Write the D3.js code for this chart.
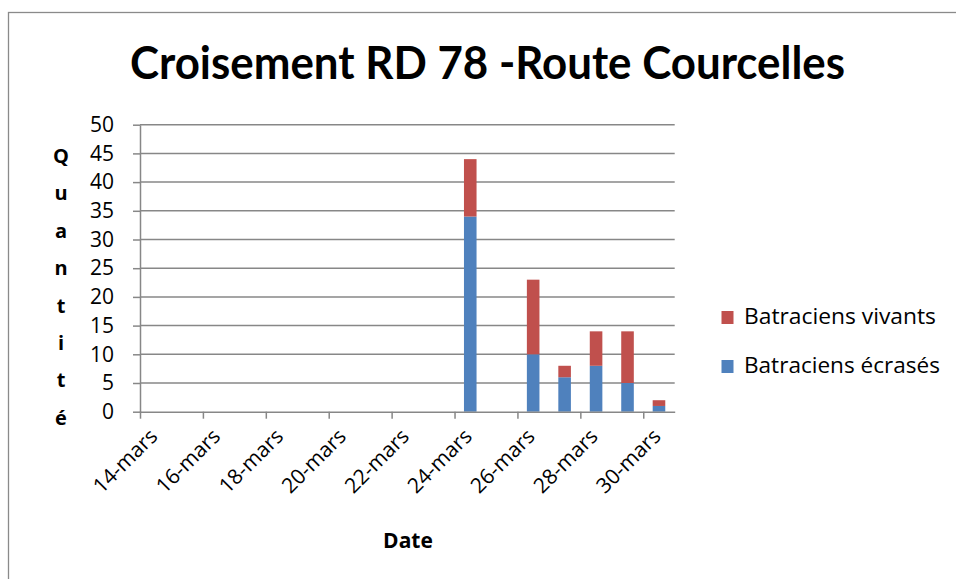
<!DOCTYPE html>
<html>
<head>
<meta charset="utf-8">
<script src="https://cdn.jsdelivr.net/npm/d3@7"></script>
<style>
  html, body { margin: 0; padding: 0; background: #fff; }
  svg { display: block; }
</style>
</head>
<body>
<svg id="chart" width="956" height="579"></svg>
<script>
(function () {
// ---- data ----
const title = "Croisement RD 78 -Route Courcelles";
const dates = ["2014-03-24", "2014-03-26", "2014-03-27", "2014-03-28", "2014-03-29", "2014-03-30"];
const ecrases = [34, 10, 6, 8, 5, 1];
const vivants = [10, 13, 2, 6, 9, 1];
const tickDates = ["2014-03-14", "2014-03-16", "2014-03-18", "2014-03-20", "2014-03-22", "2014-03-24", "2014-03-26", "2014-03-28", "2014-03-30"];
const tickLabels = ["14-mars", "16-mars", "18-mars", "20-mars", "22-mars", "24-mars", "26-mars", "28-mars", "30-mars"];
const yTicks = [0, 5, 10, 15, 20, 25, 30, 35, 40, 45, 50];
const seriesNames = ["Batraciens vivants", "Batraciens écrasés"];
const seriesColors = ["#C0504D", "#4F81BD"];
const yTitle = "Quantité";
const xTitle = "Date";

// ---- layout ----
const svg = d3.select("#chart");
const plotL = 140, plotR = 674.7, plotT = 124.7, plotB = 411.7;
const gridColor = "#878787";
const font = "'Open Sans', sans-serif";
const HALF_DAY = 12 * 3600 * 1000;
const parse = s => new Date(s + "T00:00:00Z");

const x = d3.scaleUtc()
  .domain([new Date(+parse("2014-03-14") - HALF_DAY), new Date(+parse("2014-03-30") + HALF_DAY)])
  .range([plotL, plotR]);
const y = d3.scaleLinear().domain([0, 50]).range([plotB, plotT]);

// outer border
svg.append("rect")
  .attr("x", 8.5).attr("y", 12.5).attr("width", 1000).attr("height", 1000)
  .attr("fill", "none").attr("stroke", "#8a8a8a").attr("stroke-width", 1.3);

// title
svg.append("text")
  .attr("x", 130).attr("y", 78.5)
  .attr("font-family", "Lato, sans-serif").attr("font-weight", 700).attr("font-size", 45)
  .attr("textLength", 715).attr("lengthAdjust", "spacingAndGlyphs")
  .attr("fill", "#000")
  .text(title);

// gridlines
svg.append("g").selectAll("line")
  .data(yTicks.filter(v => v > 0))
  .join("line")
  .attr("x1", plotL).attr("x2", plotR)
  .attr("y1", d => y(d)).attr("y2", d => y(d))
  .attr("stroke", gridColor).attr("stroke-width", 1.5);

// y axis
const yAxis = svg.append("g")
  .attr("transform", `translate(${plotL},0)`)
  .call(d3.axisLeft(y).tickValues(yTicks).tickSize(7).tickPadding(19).tickSizeOuter(0));
yAxis.select(".domain").attr("stroke", gridColor).attr("stroke-width", 1.5);
yAxis.selectAll(".tick line").attr("stroke", gridColor).attr("stroke-width", 1.5);
yAxis.selectAll(".tick text")
  .attr("font-family", font).attr("font-size", 21).attr("fill", "#000");

// bars (stacked)
const stackData = dates.map((d, i) => ({ date: parse(d), ecrases: ecrases[i], vivants: vivants[i] }));
const stack = d3.stack().keys(["ecrases", "vivants"])(stackData);
const colorByKey = { ecrases: seriesColors[1], vivants: seriesColors[0] };
const barW = (x(parse("2014-03-15")) - x(parse("2014-03-14"))) * 0.4;
svg.append("g").selectAll("g")
  .data(stack)
  .join("g")
  .attr("fill", d => colorByKey[d.key])
  .selectAll("rect")
  .data(d => d)
  .join("rect")
  .attr("x", d => x(d.data.date) - barW / 2)
  .attr("width", barW)
  .attr("y", d => y(d[1]))
  .attr("height", d => y(d[0]) - y(d[1]));

// x axis
const tickEdges = tickDates.map(d => new Date(+parse(d) - HALF_DAY));
const xAxis = svg.append("g")
  .attr("transform", `translate(0,${plotB})`)
  .call(d3.axisBottom(x).tickValues(tickEdges).tickSize(7).tickSizeOuter(0).tickFormat(""));
xAxis.select(".domain").attr("stroke", gridColor).attr("stroke-width", 1.5);
xAxis.selectAll(".tick line").attr("stroke", gridColor).attr("stroke-width", 1.5);

// x tick labels (rotated)
svg.append("g").selectAll("text")
  .data(tickDates)
  .join("text")
  .attr("transform", d => `translate(${x(parse(d)) + 3},${plotB + 26}) rotate(-45)`)
  .attr("text-anchor", "end")
  .attr("font-family", font).attr("font-size", 21).attr("fill", "#000")
  .text((d, i) => tickLabels[i]);

// x title
svg.append("text")
  .attr("x", 408).attr("y", 548)
  .attr("text-anchor", "middle")
  .attr("font-family", font).attr("font-weight", 700).attr("font-size", 21)
  .text(xTitle);

// y title (stacked letters)
const yt = svg.append("text")
  .attr("font-family", font).attr("font-weight", 700).attr("font-size", 20)
  .attr("text-anchor", "middle");
yt.selectAll("tspan")
  .data(Array.from(yTitle))
  .join("tspan")
  .attr("x", 61)
  .attr("y", (d, i) => 163 + i * 37.4)
  .text(d => d);

// legend
const legend = svg.append("g");
const legendY = [311, 360];
const legendW = [192, 196];
seriesNames.forEach((name, i) => {
  legend.append("rect")
    .attr("x", 721.5).attr("y", legendY[i]).attr("width", 12).attr("height", 13)
    .attr("fill", seriesColors[i]);
  legend.append("text")
    .attr("x", 744).attr("y", legendY[i] + 13)
    .attr("font-family", font).attr("font-size", 21).attr("fill", "#000")
    .attr("textLength", legendW[i]).attr("lengthAdjust", "spacingAndGlyphs")
    .text(name);
});
})();
</script>
</body>
</html>
